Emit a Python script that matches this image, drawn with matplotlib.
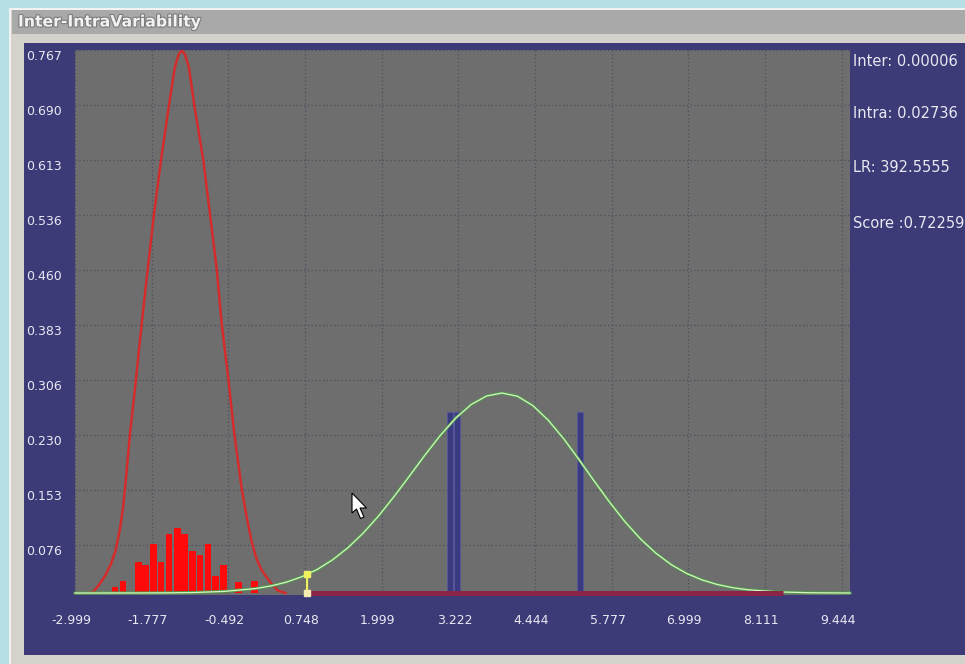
import matplotlib
matplotlib.use("Agg")
import matplotlib.pyplot as plt
from matplotlib.patches import Rectangle, Polygon
from matplotlib.transforms import ScaledTranslation
import matplotlib.patheffects as pe

W, H = 965, 664

# axis labels as the app prints them (evenly spaced on screen)
xtick_pos = [-2.999, -1.755, -0.510, 0.734, 1.978, 3.222, 4.467, 5.711, 6.955, 8.200, 9.444]
xtick_labels = ["-2.999", "-1.777", "-0.492", "0.748", "1.999", "3.222",
                "4.444", "5.777", "6.999", "8.111", "9.444"]
ytick_pos = [0.767, 0.6893, 0.6116, 0.5339, 0.4562, 0.3785, 0.3008, 0.2232, 0.1455, 0.0678]
ytick_labels = ["0.767", "0.690", "0.613", "0.536", "0.460", "0.383",
                "0.306", "0.230", "0.153", "0.076"]

# intra scores histogram (red bars)
hist_x = [-2.350, -2.220, -1.972, -1.850, -1.728, -1.603, -1.473, -1.340,
          -1.219, -1.095, -0.970, -0.841, -0.716, -0.592, -0.349, -0.083]
hist_h = [0.0090, 0.0165, 0.0441, 0.0390, 0.0691, 0.0441, 0.0840, 0.0915,
          0.0840, 0.0600, 0.0540, 0.0691, 0.0240, 0.0400, 0.0151, 0.0165]

# intra density (red curve)
red_x = [-2.80, -2.702, -2.609, -2.512, -2.42, -2.34, -2.27, -2.22, -2.188,
         -2.106, -2.009, -1.917, -1.819, -1.717, -1.603, -1.474, -1.38, -1.32,
         -1.267, -1.21, -1.15, -1.063, -0.917, -0.808, -0.699, -0.618, -0.511,
         -0.414, -0.294, -0.21, -0.131, -0.06, 0.02, 0.112, 0.203, 0.300, 0.42]
red_y = [0.0, 0.0016, 0.0116, 0.024, 0.040, 0.060, 0.090, 0.120, 0.1476,
         0.225, 0.3026, 0.380, 0.4575, 0.535, 0.6116, 0.689, 0.742, 0.760,
         0.767, 0.760, 0.742, 0.689, 0.6116, 0.535, 0.4575, 0.380, 0.3026,
         0.225, 0.1476, 0.106, 0.072, 0.050, 0.034, 0.022, 0.0116, 0.003, 0.0]

# inter density (green curve)
green_x = [-2.999, -2.07, -1.57, -1.07, -0.57, -0.07, 0.18, 0.43, 0.68, 0.93,
           1.18, 1.43, 1.68, 1.93, 2.18, 2.43, 2.68, 2.93, 3.18, 3.43, 3.68,
           3.93, 4.18, 4.43, 4.68, 4.93, 5.18, 5.43, 5.68, 5.93, 6.18, 6.43,
           6.68, 6.93, 7.18, 7.43, 7.68, 7.93, 8.43, 8.93, 9.43, 9.578]
green_y = [0.0, 0.0001, 0.0002, 0.0007, 0.0023, 0.0063, 0.0100, 0.0153, 0.0229,
           0.0332, 0.0468, 0.0639, 0.0848, 0.1091, 0.1364, 0.1654, 0.1948,
           0.2227, 0.2471, 0.2662, 0.2783, 0.2825, 0.2780, 0.2648, 0.2442,
           0.2181, 0.1885, 0.1578, 0.1279, 0.1003, 0.0762, 0.0561, 0.0399,
           0.0275, 0.0184, 0.0119, 0.0074, 0.0045, 0.0015, 0.0004, 0.0001, 0.0]

# inter scores (blue bars)
inter_x = [3.090, 3.196, 5.197]
inter_h = [0.256, 0.256, 0.256]

# evidence marker and the region after it
thr_x = 0.761
thr_y = 0.027
region_end = 8.491

stats = ["Inter: 0.00006", "Intra: 0.02736", "LR: 392.5555", "Score :0.72259"]
stats_y = [62, 113, 168, 224]

NAVY = "#3c3a77"
PLOT_BG = "#6e6e6e"
TXT = "#e8e8f2"


def px_rect(x0, y0, x1, y1, color):
    return Rectangle((x0 / W, 1 - y1 / H), (x1 - x0) / W, (y1 - y0) / H,
                     transform=fig.transFigure, facecolor=color,
                     edgecolor="none", zorder=-10)


fig = plt.figure(figsize=(W / 100, H / 100), dpi=100)
fig.patch.set_facecolor("#b7dee3")

# window chrome
fig.add_artist(px_rect(9, 8, W, H, "#f2f2f2"))
fig.add_artist(px_rect(11, 10, W, H, "#d5d2cc"))
fig.add_artist(px_rect(12, 10, W, 34, "#a9a9a9"))
fig.add_artist(px_rect(24, 43, W, 655, NAVY))
fig.text(18 / W, 1 - 22 / H, "Inter-IntraVariability", fontsize=11.3,
         fontweight="bold", color="#f2f2f2", va="center", ha="left",
         path_effects=[pe.withStroke(linewidth=1.6, foreground="#7c7c7c")])

ax = fig.add_axes([75 / W, 1 - 595 / H, 775 / W, 545 / H])
ax.set_facecolor(PLOT_BG)
for s in ax.spines.values():
    s.set_visible(False)
ax.set_xlim(-2.999, 9.578)
ax.set_ylim(-0.0028, 0.767)
ax.set_axisbelow(True)
ax.grid(True, color="#4e4e62", linestyle=(0, (1, 2)), linewidth=0.9)

ax.bar(hist_x, hist_h, width=0.11, color="#ff0a0a", edgecolor="none", zorder=2)
ax.bar(inter_x, inter_h, width=0.105, color="#3a3a80", edgecolor="#5656a0",
       linewidth=0.6, zorder=2)
ax.plot(red_x, red_y, color="#d42c2c", lw=1.8, zorder=3)
ax.plot(green_x, green_y, color="#4f9a4a", lw=2.2, zorder=4, clip_on=False)
ax.plot(green_x, green_y, color="#d8f4c4", lw=0.9, zorder=4, clip_on=False)
ax.plot([thr_x, region_end], [0, 0], color="#8a2448", lw=3.6, zorder=5,
        clip_on=False, solid_capstyle="butt")
ax.plot([thr_x, thr_x], [0, thr_y], color="#eef060", lw=1.6, zorder=6,
        clip_on=False)
ax.plot([thr_x], [thr_y], marker="s", ms=4.5, color="#eef060", zorder=7,
        clip_on=False)
ax.plot([thr_x], [0], marker="s", ms=4.5, color="#f6eeb0", zorder=7,
        clip_on=False)

ax.set_xticks(xtick_pos)
ax.set_xticklabels(xtick_labels)
ax.set_yticks(ytick_pos)
ax.set_yticklabels(ytick_labels)
ax.tick_params(axis="both", length=0, colors=TXT, labelsize=9)
ax.tick_params(axis="x", pad=14)
ax.tick_params(axis="y", pad=35)
shift = ScaledTranslation(-0.04, 0, fig.dpi_scale_trans)
for lab in ax.get_xticklabels():
    lab.set_transform(lab.get_transform() + shift)
for lab in ax.get_yticklabels():
    lab.set_horizontalalignment("left")
    lab.set_verticalalignment("top")

for s, yy in zip(stats, stats_y):
    fig.text(853 / W, 1 - yy / H, s, fontsize=10.5, color=TXT,
             va="center", ha="left")

# mouse pointer left in the screenshot
cursor = [(352, 493), (352, 513), (356.5, 509), (360.5, 518.5), (364, 517),
          (360, 508), (366.5, 508)]
fig.add_artist(Polygon([(x / W, 1 - y / H) for x, y in cursor], closed=True,
                       transform=fig.transFigure, facecolor="white",
                       edgecolor="black", linewidth=0.8, zorder=20))

fig.savefig("out.png", dpi=100)
